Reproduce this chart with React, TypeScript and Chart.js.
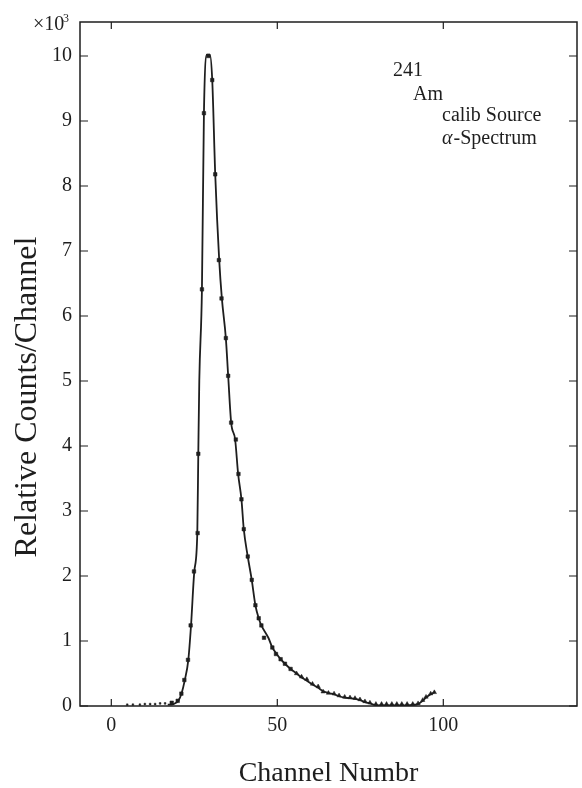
import React, { useEffect, useRef } from "react";
import { Chart, registerables } from "chart.js";

Chart.register(...registerables);

// Tick values
const xTickValues = [0, 50, 100];
const yTickValues = [0, 1, 2, 3, 4, 5, 6, 7, 8, 9, 10];

// Measured data points (channel, counts x10^3)
const markerChannels = [
  4.8, 6.5, 8.6, 10.1, 11.7, 13.2, 14.7, 16.2,
  18.2, 20.0, 21.1, 22.0, 23.1, 23.9, 24.9, 26.0, 26.2, 27.3, 27.9, 29.2,
  30.4, 31.3, 32.4, 33.2, 34.5, 35.2, 36.1, 37.5, 38.3, 39.2, 39.9, 41.1,
  42.3, 43.4, 44.4, 45.2, 46.0, 48.5, 49.6, 51.0, 52.3, 54.0, 55.8, 57.3,
  58.9, 60.6, 62.3, 63.8, 65.4, 67.1, 68.6, 70.3, 71.9, 73.4, 74.9, 76.4,
  77.9, 79.7, 81.4, 82.9, 84.5, 86.0, 87.5, 89.1, 90.8, 92.4, 93.8, 94.8,
  96.2, 97.3,
];
const markerCounts = [
  0.02, 0.02, 0.02, 0.03, 0.03, 0.03, 0.04, 0.04,
  0.05, 0.08, 0.19, 0.40, 0.71, 1.24, 2.07, 2.66, 3.88, 6.41, 9.12, 10.0,
  9.63, 8.18, 6.86, 6.27, 5.66, 5.08, 4.36, 4.10, 3.57, 3.18, 2.72, 2.30,
  1.94, 1.55, 1.35, 1.24, 1.05, 0.90, 0.80, 0.72, 0.65, 0.57, 0.50, 0.45,
  0.41, 0.34, 0.30, 0.22, 0.20, 0.19, 0.16, 0.14, 0.13, 0.12, 0.10, 0.07,
  0.05, 0.03, 0.03, 0.03, 0.03, 0.03, 0.03, 0.03, 0.03, 0.04, 0.09, 0.14,
  0.19, 0.21,
];

// Fitted curve drawn through the points
const curveChannels = [
  17.0, 18.7, 20.2, 21.2, 22.1, 23.2, 24.0, 25.0, 25.9, 26.2, 26.5, 27.3,
  27.9, 28.8, 29.7, 30.4, 31.3, 32.5, 33.3, 34.5, 35.2, 36.1, 37.3, 38.2,
  39.2, 39.9, 41.1, 42.3, 43.4, 44.4, 45.2, 47.3, 48.5, 49.8, 51.0, 52.3,
  54.0, 55.8, 57.3, 58.9, 60.6, 62.3, 63.8, 65.4, 67.1, 68.6, 70.3, 71.9,
  73.4, 74.9, 76.4, 77.9, 79.7, 85.0, 90.0, 92.4, 93.8, 94.8, 96.2, 97.3,
];
const curveCounts = [
  0.02, 0.03, 0.08, 0.20, 0.39, 0.71, 1.23, 2.07, 2.66, 3.88, 5.0, 6.41,
  9.12, 10.02, 10.02, 9.63, 8.18, 6.86, 6.27, 5.66, 5.08, 4.36, 4.10, 3.57,
  3.18, 2.72, 2.30, 1.94, 1.55, 1.35, 1.24, 1.05, 0.90, 0.80, 0.72, 0.65,
  0.57, 0.50, 0.44, 0.39, 0.33, 0.28, 0.23, 0.20, 0.18, 0.15, 0.13, 0.12,
  0.11, 0.09, 0.06, 0.04, 0.015, 0.01, 0.015, 0.03, 0.08, 0.13, 0.18, 0.21,
];

const annotationLines = ["241", "Am", "calib Source", "-Spectrum"];

const INK = "#1e1e1e";
const SERIF = '"Liberation Serif", "DejaVu Serif", serif';

const decorPlugin = {
  id: "decor",
  afterDraw(chart: any) {
    const { ctx, chartArea } = chart;
    const { left, right, top, bottom } = chartArea;
    const xs = chart.scales.x;
    const ys = chart.scales.y;
    ctx.save();
    ctx.strokeStyle = INK;
    ctx.lineWidth = 1.5;
    ctx.strokeRect(left, top, right - left, bottom - top);
    ctx.lineWidth = 1.2;
    ctx.beginPath();
    for (const t of xs.ticks) {
      const px = xs.getPixelForValue(t.value);
      ctx.moveTo(px, bottom);
      ctx.lineTo(px, bottom - 7);
      ctx.moveTo(px, top);
      ctx.lineTo(px, top + 7);
    }
    for (const t of ys.ticks) {
      const py = ys.getPixelForValue(t.value);
      ctx.moveTo(left, py);
      ctx.lineTo(left + 8, py);
      ctx.moveTo(right, py);
      ctx.lineTo(right - 8, py);
    }
    ctx.stroke();

    ctx.fillStyle = INK;
    // x10^3 multiplier
    ctx.textAlign = "left";
    ctx.textBaseline = "alphabetic";
    ctx.font = `20px ${SERIF}`;
    ctx.fillText("×10", 33, 30);
    ctx.font = `12px ${SERIF}`;
    ctx.fillText("3", 63, 22);

    // annotation
    ctx.font = `20px ${SERIF}`;
    ctx.textBaseline = "middle";
    ctx.fillText(annotationLines[0], 393, 71);
    ctx.fillText(annotationLines[1], 413, 95);
    ctx.fillText(annotationLines[2], 442, 116);
    ctx.font = `italic 20px ${SERIF}`;
    ctx.fillText("α", 442, 139);
    const aw = ctx.measureText("α").width;
    ctx.font = `20px ${SERIF}`;
    ctx.fillText(annotationLines[3], 442 + aw + 1, 139);

    // y axis title
    ctx.save();
    ctx.translate(28, 397);
    ctx.rotate(-Math.PI / 2);
    ctx.textAlign = "center";
    ctx.font = `32px ${SERIF}`;
    ctx.fillText("Relative Counts/Channel", 0, 0);
    ctx.restore();
    ctx.restore();
  },
};

export default function App() {
  const ref = useRef<HTMLCanvasElement | null>(null);
  useEffect(() => {
    document.body.style.margin = "0";
    const canvas = ref.current;
    if (!canvas) return;
    const markers = markerChannels.map((c, i) => ({ x: c, y: markerCounts[i] }));
    const curve = curveChannels.map((c, i) => ({ x: c, y: curveCounts[i] }));
    const chart = new Chart(canvas, {
      type: "scatter",
      data: {
        datasets: [
          {
            type: "line",
            data: curve,
            borderColor: INK,
            borderWidth: 1.8,
            pointRadius: 0,
            fill: false,
            cubicInterpolationMode: "monotone",
            order: 2,
          } as any,
          {
            type: "scatter",
            data: markers,
            backgroundColor: INK,
            borderColor: INK,
            borderWidth: 0.5,
            pointStyle: (c: any) => (c.raw && c.raw.x > 55 ? "triangle" : "rect"),
            pointRadius: (c: any) => (c.raw && c.raw.x < 17 ? 1.2 : 2.5),
            order: 1,
          } as any,
        ],
      },
      options: {
        animation: false,
        responsive: false,
        layout: { padding: { left: 0, right: 5, top: 22, bottom: 0 } },
        plugins: { legend: { display: false }, tooltip: { enabled: false } },
        scales: {
          x: {
            type: "linear",
            min: -9.43,
            max: 140.27,
            afterBuildTicks: (s: any) => {
              s.ticks = xTickValues.map((v) => ({ value: v }));
            },
            afterFit: (s: any) => {
              s.height = 82;
            },
            grid: { display: false, drawTicks: false },
            border: { display: false },
            ticks: {
              color: INK,
              padding: 8,
              font: { family: SERIF, size: 20 },
            },
            title: {
              display: true,
              text: "Channel Numbr",
              color: INK,
              font: { family: SERIF, size: 28, lineHeight: 1 },
              padding: { top: 0, bottom: 0 },
            },
          },
          y: {
            type: "linear",
            min: 0,
            max: 10.523,
            afterBuildTicks: (s: any) => {
              s.ticks = yTickValues.map((v) => ({ value: v }));
            },
            afterFit: (s: any) => {
              s.width = 80;
            },
            grid: { display: false, drawTicks: false },
            border: { display: false },
            ticks: {
              color: INK,
              padding: 8,
              font: { family: SERIF, size: 20 },
            },
          },
        },
      },
      plugins: [decorPlugin],
    });
    return () => chart.destroy();
  }, []);
  return (
    <div style={{ position: "absolute", left: 0, top: 0, width: 582, height: 788 }}>
      <canvas ref={ref} width={582} height={788} />
    </div>
  );
}
